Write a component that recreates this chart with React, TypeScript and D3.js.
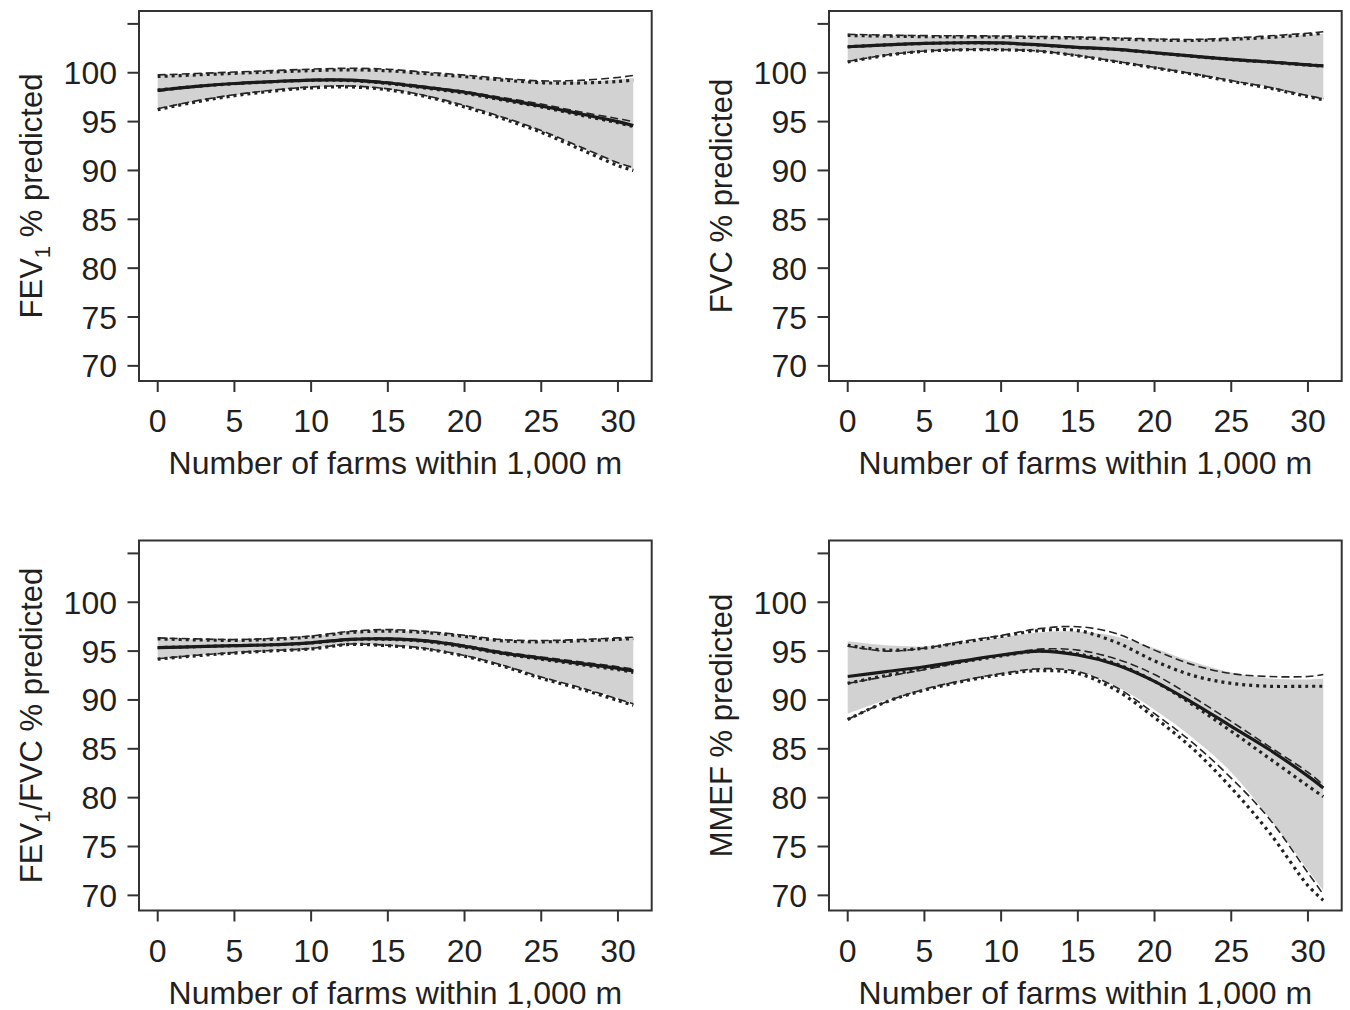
import React from "react";
import * as d3 from "d3";

// x sample points (number of farms within 1,000 m)
const xs = [0, 2.5, 5, 7.5, 10, 12.5, 15, 17.5, 20, 22.5, 25, 27.5, 30, 31];
const xTicks = [0, 5, 10, 15, 20, 25, 30];
const yTicks = [70, 75, 80, 85, 90, 95, 100, 105];
const yTickLabels = [70, 75, 80, 85, 90, 95, 100];
const xTitle = "Number of farms within 1,000 m";

// FEV1
const fev1Mid = [98.2, 98.6, 98.9, 99.1, 99.25, 99.25, 98.95, 98.5, 98.0, 97.3, 96.6, 95.8, 95.0, 94.6];
const fev1BandHi = [99.7, 99.85, 100.0, 100.15, 100.3, 100.38, 100.28, 99.98, 99.68, 99.33, 99.08, 99.08, 99.3, 99.45];
const fev1BandLo = [96.3, 97.1, 97.7, 98.2, 98.5, 98.6, 98.3, 97.6, 96.6, 95.4, 94.0, 92.35, 90.7, 90.15];
const fev1DashMid = [98.1, 98.55, 98.9, 99.15, 99.3, 99.3, 99.05, 98.6, 98.1, 97.45, 96.8, 96.0, 95.3, 95.0];
const fev1DashHi = [99.78, 99.92, 100.07, 100.22, 100.37, 100.46, 100.36, 100.06, 99.76, 99.42, 99.17, 99.22, 99.52, 99.72];
const fev1DashLo = [96.32, 97.12, 97.75, 98.22, 98.55, 98.65, 98.35, 97.65, 96.65, 95.45, 94.1, 92.45, 90.8, 90.3];
const fev1DotMid = [98.22, 98.6, 98.88, 99.08, 99.22, 99.2, 98.9, 98.42, 97.9, 97.2, 96.5, 95.68, 94.88, 94.5];
const fev1DotHi = [99.62, 99.78, 99.94, 100.08, 100.22, 100.3, 100.2, 99.9, 99.6, 99.25, 98.98, 98.95, 99.1, 99.25];
const fev1DotLo = [96.22, 97.02, 97.65, 98.12, 98.45, 98.55, 98.25, 97.55, 96.5, 95.3, 93.9, 92.2, 90.5, 90.0];

// FVC
const fvcMid = [102.66, 102.85, 103.0, 103.07, 103.05, 102.85, 102.6, 102.4, 102.05, 101.7, 101.37, 101.1, 100.8, 100.7];
const fvcBandHi = [103.85, 103.78, 103.72, 103.7, 103.68, 103.63, 103.58, 103.48, 103.38, 103.33, 103.45, 103.65, 103.9, 104.0];
const fvcBandLo = [101.2, 101.85, 102.25, 102.4, 102.4, 102.25, 101.8, 101.2, 100.6, 99.95, 99.25, 98.55, 97.7, 97.4];
const fvcDashMid = [102.6, 102.82, 102.98, 103.05, 103.05, 102.88, 102.65, 102.45, 102.12, 101.78, 101.45, 101.18, 100.88, 100.78];
const fvcDashHi = [103.93, 103.86, 103.8, 103.78, 103.76, 103.71, 103.66, 103.56, 103.46, 103.41, 103.55, 103.78, 104.05, 104.2];
const fvcDashLo = [101.15, 101.82, 102.22, 102.37, 102.37, 102.22, 101.77, 101.17, 100.55, 99.9, 99.2, 98.5, 97.65, 97.35];
const fvcDotMid = [102.66, 102.85, 103.0, 103.06, 103.03, 102.83, 102.58, 102.38, 102.03, 101.68, 101.35, 101.08, 100.78, 100.68];
const fvcDotHi = [103.82, 103.75, 103.7, 103.67, 103.65, 103.6, 103.55, 103.45, 103.35, 103.3, 103.42, 103.62, 103.9, 104.05];
const fvcDotLo = [101.1, 101.78, 102.2, 102.35, 102.35, 102.2, 101.73, 101.12, 100.5, 99.85, 99.12, 98.42, 97.55, 97.25];

// FEV1/FVC
const ratioMid = [95.36, 95.45, 95.56, 95.65, 95.85, 96.2, 96.25, 96.04, 95.5, 94.8, 94.27, 93.75, 93.24, 92.97];
const ratioBandHi = [96.3, 96.2, 96.14, 96.25, 96.5, 96.95, 97.1, 96.95, 96.55, 96.12, 96.0, 96.1, 96.25, 96.3];
const ratioBandLo = [94.27, 94.6, 94.88, 95.1, 95.3, 95.75, 95.63, 95.3, 94.6, 93.6, 92.4, 91.37, 90.17, 89.66];
const ratioDashMid = [95.3, 95.42, 95.55, 95.66, 95.9, 96.25, 96.32, 96.12, 95.6, 94.92, 94.4, 93.9, 93.4, 93.15];
const ratioDashHi = [96.35, 96.25, 96.18, 96.3, 96.55, 97.02, 97.2, 97.02, 96.62, 96.18, 96.08, 96.18, 96.35, 96.42];
const ratioDashLo = [94.22, 94.57, 94.85, 95.07, 95.27, 95.72, 95.6, 95.27, 94.55, 93.55, 92.35, 91.3, 90.1, 89.6];
const ratioDotMid = [95.36, 95.45, 95.56, 95.64, 95.83, 96.17, 96.2, 95.98, 95.42, 94.72, 94.17, 93.63, 93.1, 92.83];
const ratioDotHi = [96.25, 96.15, 96.1, 96.2, 96.45, 96.9, 97.05, 96.9, 96.5, 96.05, 95.95, 96.05, 96.2, 96.28];
const ratioDotLo = [94.18, 94.52, 94.8, 95.02, 95.22, 95.68, 95.55, 95.2, 94.48, 93.45, 92.22, 91.15, 89.95, 89.45];

// MMEF
const mmefMid = [92.4, 92.9, 93.4, 94.0, 94.6, 95.0, 94.6, 93.6, 91.9, 89.7, 87.3, 84.9, 82.2, 81.0];
const mmefBandHi = [96.0, 95.6, 95.5, 95.9, 96.4, 96.9, 97.0, 96.5, 95.3, 93.9, 92.8, 92.2, 92.1, 92.2];
const mmefBandLo = [88.6, 90.0, 91.0, 91.9, 92.6, 93.1, 92.9, 91.4, 89.0, 86.1, 82.6, 77.9, 72.6, 70.5];
const mmefDashMid = [91.7, 92.4, 93.1, 93.9, 94.6, 95.2, 95.1, 94.2, 92.6, 90.3, 87.8, 85.2, 82.6, 81.3];
const mmefDashHi = [95.5, 95.0, 95.3, 96.0, 96.6, 97.3, 97.5, 96.8, 95.1, 93.6, 92.7, 92.4, 92.4, 92.6];
const mmefDashLo = [88.0, 89.8, 91.1, 92.0, 92.7, 93.2, 92.9, 91.3, 88.6, 85.6, 82.0, 77.8, 72.3, 70.1];
const mmefDotMid = [91.7, 92.5, 93.2, 93.9, 94.5, 95.0, 94.7, 93.7, 91.9, 89.5, 86.8, 84.0, 81.2, 80.1];
const mmefDotHi = [95.6, 95.1, 95.3, 95.9, 96.5, 97.1, 97.1, 95.9, 94.0, 92.5, 91.7, 91.4, 91.4, 91.4];
const mmefDotLo = [88.0, 89.8, 91.0, 91.9, 92.6, 93.0, 92.7, 91.0, 88.2, 85.0, 81.0, 76.4, 71.0, 69.5];

type Panel = {
  label: React.ReactNode;
  left: number;
  top: number;
  mid: number[];
  bandLo: number[];
  bandHi: number[];
  dash: number[][];
  dot: number[][];
};

const PW = 512.7;
const PH = 370;
const FONT = "'Liberation Sans', Arial, Helvetica, sans-serif";
const FS = 32;

const sub1 = (
  <tspan fontSize="22" dy="8">1</tspan>
);

const panels: Panel[] = [
  {
    label: (
      <>
        <tspan>FEV</tspan>
        {sub1}
        <tspan dy="-8"> % predicted</tspan>
      </>
    ),
    left: 139,
    top: 11,
    mid: fev1Mid,
    bandLo: fev1BandLo,
    bandHi: fev1BandHi,
    dash: [fev1DashMid, fev1DashHi, fev1DashLo],
    dot: [fev1DotMid, fev1DotHi, fev1DotLo],
  },
  {
    label: <tspan>FVC % predicted</tspan>,
    left: 829,
    top: 11,
    mid: fvcMid,
    bandLo: fvcBandLo,
    bandHi: fvcBandHi,
    dash: [fvcDashMid, fvcDashHi, fvcDashLo],
    dot: [fvcDotMid, fvcDotHi, fvcDotLo],
  },
  {
    label: (
      <>
        <tspan>FEV</tspan>
        {sub1}
        <tspan dy="-8">/FVC % predicted</tspan>
      </>
    ),
    left: 139,
    top: 540.5,
    mid: ratioMid,
    bandLo: ratioBandLo,
    bandHi: ratioBandHi,
    dash: [ratioDashMid, ratioDashHi, ratioDashLo],
    dot: [ratioDotMid, ratioDotHi, ratioDotLo],
  },
  {
    label: <tspan>MMEF % predicted</tspan>,
    left: 829,
    top: 540.5,
    mid: mmefMid,
    bandLo: mmefBandLo,
    bandHi: mmefBandHi,
    dash: [mmefDashMid, mmefDashHi, mmefDashLo],
    dot: [mmefDotMid, mmefDotHi, mmefDotLo],
  },
];

function PanelView({ p }: { p: Panel }) {
  const x = d3.scaleLinear().domain([-1.22, 32.2]).range([p.left, p.left + PW]);
  const y = d3.scaleLinear().domain([68.45, 106.32]).range([p.top + PH, p.top]);
  const bottom = p.top + PH;
  const line = (vals: number[]) =>
    d3
      .line<number>()
      .x((_, i) => x(xs[i]))
      .y((v) => y(v))
      .curve(d3.curveCatmullRom.alpha(0.5))(vals) || "";
  const area =
    d3
      .area<number>()
      .x((_, i) => x(xs[i]))
      .y0((_, i) => y(p.bandLo[i]))
      .y1((_, i) => y(p.bandHi[i]))
      .curve(d3.curveCatmullRom.alpha(0.5))(p.mid) || "";
  const cx = p.left + PW / 2;
  const cy = p.top + PH / 2;
  return (
    <g fontFamily={FONT} fill="#231f20">
      <path d={area} fill="#d2d2d2" stroke="none" />
      {p.dot.map((d, i) => (
        <path key={"o" + i} d={line(d)} fill="none" stroke="#222" strokeWidth={3.2} strokeDasharray="3,4" />
      ))}
      {p.dash.map((d, i) => (
        <path key={"d" + i} d={line(d)} fill="none" stroke="#262626" strokeWidth={1.6} strokeDasharray="8,4" />
      ))}
      <path d={line(p.mid)} fill="none" stroke="#1a1a1a" strokeWidth={3.2} />
      <rect x={p.left} y={p.top} width={PW} height={PH} fill="none" stroke="#333" strokeWidth={2} />
      {yTicks.map((t) => (
        <line key={"yt" + t} x1={p.left - 11.5} x2={p.left} y1={y(t)} y2={y(t)} stroke="#333" strokeWidth={2} />
      ))}
      {yTickLabels.map((t) => (
        <text key={"yl" + t} x={p.left - 22} y={y(t)} dy="0.36em" textAnchor="end" fontSize={FS}>
          {t}
        </text>
      ))}
      {xTicks.map((t) => (
        <line key={"xt" + t} x1={x(t)} x2={x(t)} y1={bottom} y2={bottom + 11} stroke="#333" strokeWidth={2} />
      ))}
      {xTicks.map((t) => (
        <text key={"xl" + t} x={x(t)} y={bottom + 51} textAnchor="middle" fontSize={FS}>
          {t}
        </text>
      ))}
      <text x={cx} y={bottom + 93} textAnchor="middle" fontSize={FS}>
        {xTitle}
      </text>
      <text transform={`translate(${p.left - 97},${cy}) rotate(-90)`} textAnchor="middle" fontSize={31}>
        {p.label}
      </text>
    </g>
  );
}

export default function App() {
  return (
    <svg
      width={1350}
      height={1010}
      style={{ position: "absolute", left: 0, top: 0, background: "#fff" }}
    >
      <rect width={1350} height={1010} fill="#fff" />
      {panels.map((p, i) => (
        <PanelView key={i} p={p} />
      ))}
    </svg>
  );
}
